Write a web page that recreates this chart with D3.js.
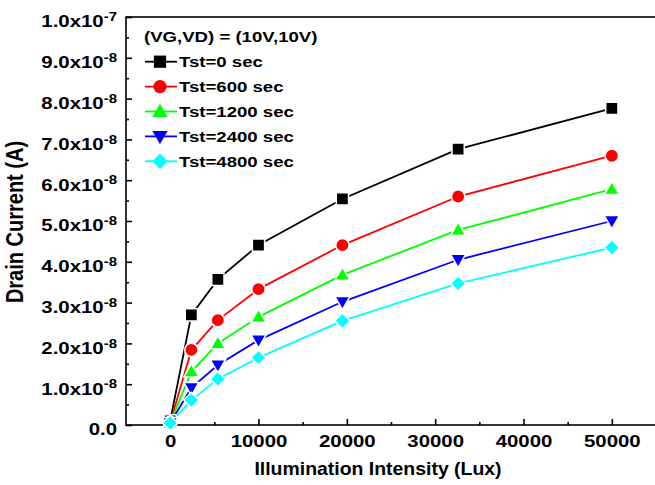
<!DOCTYPE html>
<html>
<head>
<meta charset="utf-8">
<script src="https://cdn.jsdelivr.net/npm/d3@7"></script>
<style>
  body { margin: 0; background: #fff; }
  svg text { font-family: "Liberation Sans", Arial, sans-serif; font-weight: bold; fill: #000; }
</style>
</head>
<body>
<div id="chart"></div>
<script>
// Data
var lux = [0, 2400, 5400, 10000, 19500, 32600, 50000];
var seriesNames = ["Tst=0 sec", "Tst=600 sec", "Tst=1200 sec", "Tst=2400 sec", "Tst=4800 sec"];
var tst0 = [0.10e-8, 2.70e-8, 3.57e-8, 4.41e-8, 5.54e-8, 6.76e-8, 7.76e-8];
var tst600 = [0.05e-8, 1.84e-8, 2.57e-8, 3.33e-8, 4.41e-8, 5.60e-8, 6.60e-8];
var tst1200 = [0.05e-8, 1.31e-8, 2.00e-8, 2.65e-8, 3.68e-8, 4.78e-8, 5.78e-8];
var tst2400 = [0.05e-8, 0.91e-8, 1.47e-8, 2.08e-8, 3.02e-8, 4.05e-8, 5.00e-8];
var tst4800 = [0.05e-8, 0.61e-8, 1.13e-8, 1.65e-8, 2.55e-8, 3.47e-8, 4.35e-8];
var xTicks = [0, 10000, 20000, 30000, 40000, 50000];
var xMinorTicks = [5000, 15000, 25000, 35000, 45000];
var yTicks = [0, 1e-8, 2e-8, 3e-8, 4e-8, 5e-8, 6e-8, 7e-8, 8e-8, 9e-8, 1e-7];
var yTickLabels = ["0.0", "1.0x10^-8", "2.0x10^-8", "3.0x10^-8", "4.0x10^-8", "5.0x10^-8",
  "6.0x10^-8", "7.0x10^-8", "8.0x10^-8", "9.0x10^-8", "1.0x10^-7"];
var yMinorTicks = [0.5e-8, 1.5e-8, 2.5e-8, 3.5e-8, 4.5e-8, 5.5e-8, 6.5e-8, 7.5e-8, 8.5e-8, 9.5e-8];
var legendTitle = "(VG,VD) = (10V,10V)";

function draw() {
  var w = 655, h = 485;
  var pLeft = 126, pRight = 656, pTop = 17, pBottom = 425;
  var sx = 1.2; // the original lettering is a little wider than Arial

  var series = [
    { name: seriesNames[0], values: tst0, color: "#000000", symbol: d3.symbolSquare, size: 150, rot: 0 },
    { name: seriesNames[1], values: tst600, color: "#ff0000", symbol: d3.symbolCircle, size: 140, rot: 0 },
    { name: seriesNames[2], values: tst1200, color: "#00ff00", symbol: d3.symbolTriangle, size: 100, rot: 0 },
    { name: seriesNames[3], values: tst2400, color: "#0000ff", symbol: d3.symbolTriangle, size: 100, rot: 180 },
    { name: seriesNames[4], values: tst4800, color: "#00ffff", symbol: d3.symbolSquare, size: 118, rot: 45 }
  ];

  var svg = d3.select("#chart").append("svg")
    .attr("width", w)
    .attr("height", h);

  var xScale = d3.scaleLinear().domain([-5000, 55000]).range([pLeft, pRight]);
  var yScale = d3.scaleLinear().domain([0, 1e-7]).range([pBottom, pTop]);

  // frame
  svg.append("rect")
    .attr("x", pLeft).attr("y", pTop)
    .attr("width", pRight - pLeft).attr("height", pBottom - pTop)
    .attr("fill", "none").attr("stroke", "#000").attr("stroke-width", 1.6);

  // x axis, ticks pointing inward
  var xAxis = svg.append("g")
    .attr("transform", "translate(0," + pBottom + ")")
    .call(d3.axisBottom(xScale).tickValues(xTicks).tickSize(-6).tickPadding(10)
      .tickFormat(function (d) { return d; }));
  xAxis.select(".domain").remove();
  xAxis.selectAll("line").attr("stroke-width", 1.6);
  xAxis.selectAll("text")
    .style("font-size", "17px")
    .attr("transform", "scale(" + sx + ",1)");
  svg.append("g")
    .attr("transform", "translate(0," + pBottom + ")")
    .call(d3.axisBottom(xScale).tickValues(xMinorTicks).tickSize(-3).tickFormat(""))
    .call(function (g) { g.select(".domain").remove(); g.selectAll("line").attr("stroke-width", 1.6); });

  // y axis, ticks pointing inward
  var yAxis = svg.append("g")
    .attr("transform", "translate(" + pLeft + ",0)")
    .call(d3.axisLeft(yScale).tickValues(yTicks).tickSize(-6).tickPadding(9)
      .tickFormat(function (d, i) { return yTickLabels[i]; }));
  yAxis.select(".domain").remove();
  yAxis.selectAll("line").attr("stroke-width", 1.6);
  yAxis.selectAll("text")
    .attr("text-anchor", "end")
    .attr("x", -9 / sx)
    .attr("dy", "0.58em")
    .attr("transform", "scale(" + sx + ",1)")
    .style("font-size", "17px")
    .each(function (d, i) {
      var parts = yTickLabels[i].split("^");
      var t = d3.select(this).text(null);
      t.append("tspan").text(parts[0]);
      if (parts[1]) {
        t.append("tspan").attr("dy", "-0.5em").style("font-size", "12.5px").text(parts[1]);
      }
    });
  svg.append("g")
    .attr("transform", "translate(" + pLeft + ",0)")
    .call(d3.axisLeft(yScale).tickValues(yMinorTicks).tickSize(-3).tickFormat(""))
    .call(function (g) { g.select(".domain").remove(); g.selectAll("line").attr("stroke-width", 1.6); });

  // axis titles
  svg.append("text")
    .attr("transform", "translate(378,475) scale(1.08,1)")
    .attr("text-anchor", "middle")
    .style("font-size", "18px")
    .text("Illumination Intensity (Lux)");
  svg.append("text")
    .attr("transform", "translate(23," + ((pTop + pBottom) / 2 + 1) + ") rotate(-90) scale(1,1.15)")
    .attr("text-anchor", "middle")
    .style("font-size", "20px")
    .text("Drain Current (A)");

  // lines and markers
  var line = d3.line()
    .x(function (d, i) { return xScale(lux[i]); })
    .y(function (d) { return yScale(d); });

  function shiftY(s) {
    if (s.symbol !== d3.symbolTriangle) return 0;
    return s.rot ? -1 : 1;
  }

  series.forEach(function (s) {
    svg.append("path")
      .datum(s.values)
      .attr("fill", "none")
      .attr("stroke", s.color)
      .attr("stroke-width", 1.8)
      .attr("d", line);
  });
  series.forEach(function (s) {
    var sym = d3.symbol().type(s.symbol).size(s.size);
    svg.selectAll(null)
      .data(s.values)
      .enter()
      .append("path")
      .attr("d", sym)
      .attr("transform", function (d, i) {
        return "translate(" + xScale(lux[i]) + "," + (yScale(d) + shiftY(s)) + ") rotate(" + s.rot + ")";
      })
      .attr("fill", s.color)
      .attr("stroke", "#fff")
      .attr("stroke-width", 1.5);
  });

  // legend
  var legend = svg.append("g");
  legend.append("text")
    .attr("transform", "translate(144,42) scale(" + sx + ",1)")
    .style("font-size", "15.5px")
    .text(legendTitle);
  series.forEach(function (s, i) {
    var yy = 61.7 + i * 24.9;
    legend.append("line")
      .attr("x1", 145).attr("x2", 177)
      .attr("y1", yy).attr("y2", yy)
      .attr("stroke", s.color).attr("stroke-width", 1.8);
    legend.append("path")
      .attr("d", d3.symbol().type(s.symbol).size(s.size)())
      .attr("transform", "translate(160," + (yy + shiftY(s)) + ") rotate(" + s.rot + ")")
      .attr("fill", s.color);
    legend.append("text")
      .attr("transform", "translate(179," + (yy + 5.6) + ") scale(" + sx + ",1)")
      .style("font-size", "15.5px")
      .text(s.name);
  });
}

draw();
</script>
</body>
</html>
